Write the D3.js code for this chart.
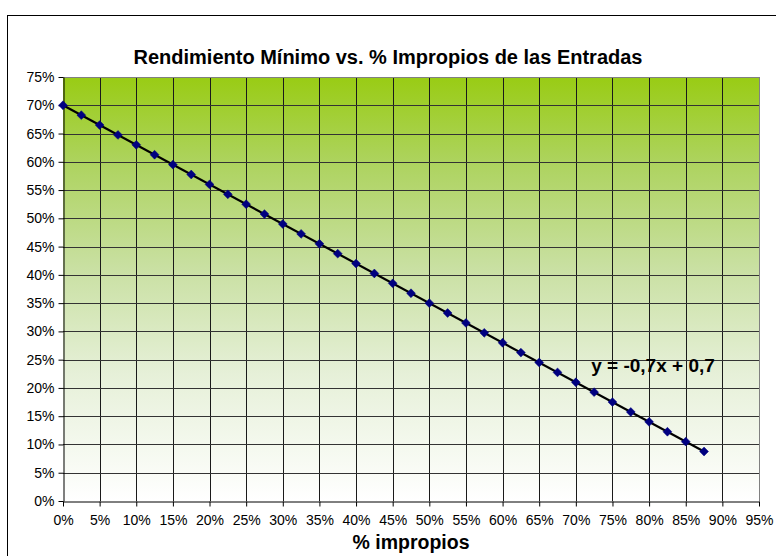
<!DOCTYPE html>
<html><head><meta charset="utf-8">
<script src="https://cdn.jsdelivr.net/npm/d3@7"></script>
<style>body{margin:0;background:#fff}svg{display:block;font-family:"Liberation Sans",Arial,sans-serif}</style>
</head><body>
<svg id="c" width="776" height="556"></svg>
<script>
const xValues = [0,0.025,0.05,0.075,0.1,0.125,0.15,0.175,0.2,0.225,0.25,0.275,0.3,0.325,0.35,0.375,0.4,0.425,0.45,0.475,0.5,0.525,0.55,0.575,0.6,0.625,0.65,0.675,0.7,0.725,0.75,0.775,0.8,0.825,0.85,0.875];
const yValues = [0.7,0.6825,0.665,0.6475,0.63,0.6125,0.595,0.5775,0.56,0.5425,0.525,0.5075,0.49,0.4725,0.455,0.4375,0.42,0.4025,0.385,0.3675,0.35,0.3325,0.315,0.2975,0.28,0.2625,0.245,0.2275,0.21,0.1925,0.175,0.1575,0.14,0.1225,0.105,0.0875];
const xTicks = [0,0.05,0.1,0.15,0.2,0.25,0.3,0.35,0.4,0.45,0.5,0.55,0.6,0.65,0.7,0.75,0.8,0.85,0.9,0.95];
const yTicks = [0,0.05,0.1,0.15,0.2,0.25,0.3,0.35,0.4,0.45,0.5,0.55,0.6,0.65,0.7,0.75];
const trendSlope = -0.7, trendIntercept = 0.7;
const titleText = "Rendimiento Mínimo vs. % Impropios de las Entradas";
const xTitle = "% impropios";
const eqText = "y = -0,7x + 0,7";

const svg = d3.select("#c");
const L = 63, R = 759, T = 77, B = 501;
const x = d3.scaleLinear().domain([0,0.95]).range([L,R]);
const y = d3.scaleLinear().domain([0,0.75]).range([B,T]);
const pct = d => Math.round(d*100) + "%";

// outer chart border
svg.append("rect").attr("x",7.5).attr("y",15.5).attr("width",900).attr("height",700)
  .attr("fill","#fff").attr("stroke","#000").attr("stroke-width",1);

const defs = svg.append("defs");
const g = defs.append("linearGradient").attr("id","bg").attr("x1",0).attr("y1",0).attr("x2",0).attr("y2",1);
[[0,"#99cc14"],[0.2,"#add35e"],[0.45,"#c9e0a2"],[0.7,"#e6f0d8"],[1,"#ffffff"]].forEach(s=>
  g.append("stop").attr("offset",s[0]).attr("stop-color",s[1]));

svg.append("rect").attr("x",L).attr("y",T).attr("width",R-L).attr("height",B-T).attr("fill","url(#bg)");

// grid
svg.append("g").selectAll("line").data(xTicks.slice(1)).join("line")
  .attr("x1",d=>Math.round(x(d))+0.5).attr("x2",d=>Math.round(x(d))+0.5)
  .attr("y1",T).attr("y2",B).attr("stroke",(d,i)=>i===xTicks.length-2?"#808080":"#1a1a1a").attr("stroke-width",1);
svg.append("g").selectAll("line").data(yTicks.slice(1)).join("line")
  .attr("x1",L).attr("x2",R)
  .attr("y1",d=>Math.round(y(d))+0.5).attr("y2",d=>Math.round(y(d))+0.5)
  .attr("stroke",(d,i)=>i===yTicks.length-2?"#808080":"#333333").attr("stroke-width",1);

// axes
const xa = svg.append("g").attr("transform",`translate(0,${B+0.5})`)
  .call(d3.axisBottom(x).tickValues(xTicks).tickFormat(pct).tickSize(5).tickSizeOuter(0).tickPadding(9));
const ya = svg.append("g").attr("transform",`translate(${L+0.5},0)`)
  .call(d3.axisLeft(y).tickValues(yTicks).tickFormat(pct).tickSize(5).tickSizeOuter(0).tickPadding(4));
[xa,ya].forEach(a=>{
  a.selectAll("path,line").attr("stroke","#000").attr("stroke-width",1);
  a.selectAll("text").attr("font-size",14).attr("fill","#000").attr("font-family","'Liberation Sans',Arial,sans-serif");
});

// trendline
svg.append("line")
  .attr("x1",x(xValues[0])).attr("y1",y(trendIntercept + trendSlope*xValues[0]))
  .attr("x2",x(xValues[xValues.length-1])).attr("y2",y(trendIntercept + trendSlope*xValues[xValues.length-1]))
  .attr("stroke","#000").attr("stroke-width",2.2);

// points
svg.append("g").selectAll("path").data(xValues).join("path")
  .attr("d",d3.symbol().type(d3.symbolDiamond2).size(50))
  .attr("transform",(d,i)=>`translate(${x(d)},${y(yValues[i])})`)
  .attr("fill","#000080").attr("stroke","#000080").attr("stroke-width",0.5);

// texts
svg.append("text").attr("x",388).attr("y",64).attr("text-anchor","middle")
  .attr("font-size",20).attr("font-weight","bold").text(titleText);
svg.append("text").attr("x",411).attr("y",549).attr("text-anchor","middle")
  .attr("font-size",19.5).attr("font-weight","bold").text(xTitle);
svg.append("text").attr("x",653).attr("y",372).attr("text-anchor","middle")
  .attr("font-size",19).attr("font-weight","bold").text(eqText);
</script>
</body></html>
